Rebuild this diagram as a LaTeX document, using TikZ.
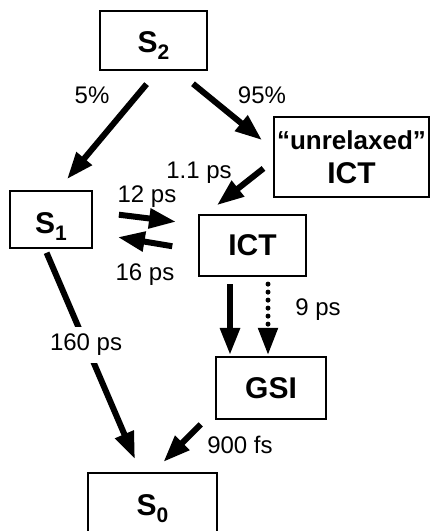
\documentclass[tikz,border=0pt]{standalone}
\usepackage{fontspec}
\setmainfont{Liberation Sans}
\usetikzlibrary{arrows.meta}
\newcommand{\lowsub}[1]{\raisebox{-7pt}{\fontsize{21}{21}\selectfont #1}}

\begin{document}
\begin{tikzpicture}[
  x=1pt,y=-1pt,
  state/.style={draw=black,line width=2.2pt,inner sep=0pt,align=center,font=\fontsize{30}{34}\selectfont\bfseries},
  sstate/.style={state,text height=23pt,text depth=0pt},
  lbl/.style={inner sep=1pt,font=\fontsize{24}{26}\selectfont},
  fl/.style={-{Triangle[length=27pt,width=19pt]},line width=6pt},
  dotfl/.style={fl,line width=5pt,dash pattern=on 0pt off 8pt,line cap=round}
]
\useasboundingbox (0,0) rectangle (431,531);
% states
\node[sstate,minimum width=107pt,minimum height=59pt] (s2) at (153.5,40.5) {S\lowsub{2}};
\node[state,minimum width=155pt,minimum height=80pt] (uict) at (351.5,157) {\fontsize{26}{41}\selectfont “unrelaxed”\\\fontsize{30}{41}\selectfont ICT};
\node[sstate,text height=28pt,minimum width=82pt,minimum height=57pt] (s1) at (51,219.5) {S\lowsub{1}};
\node[state,minimum width=107pt,minimum height=61pt] (ict) at (252.5,245.5) {ICT};
\node[state,minimum width=110pt,minimum height=62pt] (gsi) at (271,388) {GSI};
\node[sstate,minimum width=129pt,minimum height=62pt] (s0) at (152.5,504) {S\lowsub{0}};
% transitions
\draw[fl,shorten <=17pt,shorten >=14pt] ([xshift=4pt]s2.south) -- ([xshift=7pt]s1.north);
\draw[fl,shorten <=20pt,shorten >=14pt] ([xshift=24pt]s2.south) -- ([yshift=8pt]uict.west);
\draw[fl,shorten <=12pt,shorten >=14pt] ([yshift=-4pt]uict.west) -- ([xshift=8pt]ict.north west);
\draw[fl,shorten <=26pt,shorten >=22pt] ([yshift=8pt]s1.east) -- ([yshift=21pt]ict.west);
\draw[fl,shorten <=26pt,shorten >=25pt] ([yshift=-5pt]ict.west) -- ([yshift=-13.5pt]s1.east);
\draw[fl,shorten <=7pt,shorten >=1pt] ([xshift=-22.5pt]ict.south) -- ([xshift=-41pt]gsi.north);
\draw[dotfl,shorten <=7pt,shorten >=1pt] ([xshift=15.5pt]ict.south) -- ([xshift=-3pt]gsi.north);
\draw[fl,shorten <=4pt,shorten >=14pt] ([xshift=-6pt]s1.south) -- node[lbl,fill=white,pos=0.43,inner ysep=7pt] (t160) {160 ps} ([xshift=-12pt]s0.north);
\draw[fl,shorten <=6pt,shorten >=14pt] ([xshift=-10pt]gsi.south west) -- ([xshift=1pt]s0.north);
% rates
\node[lbl] (p5) at (92,95) {5\%};
\node[lbl] (p95) at (262,95) {95\%};
\node[lbl] (t11) at (199,173) {1.1 ps};
\node[lbl] (t12) at (147,197) {12 ps};
\node[lbl] (t16) at (145,275) {16 ps};
\node[lbl] (t9) at (318,310) {9 ps};
\node[lbl] (t900) at (240,445) {900 fs};
\end{tikzpicture}
\end{document}
